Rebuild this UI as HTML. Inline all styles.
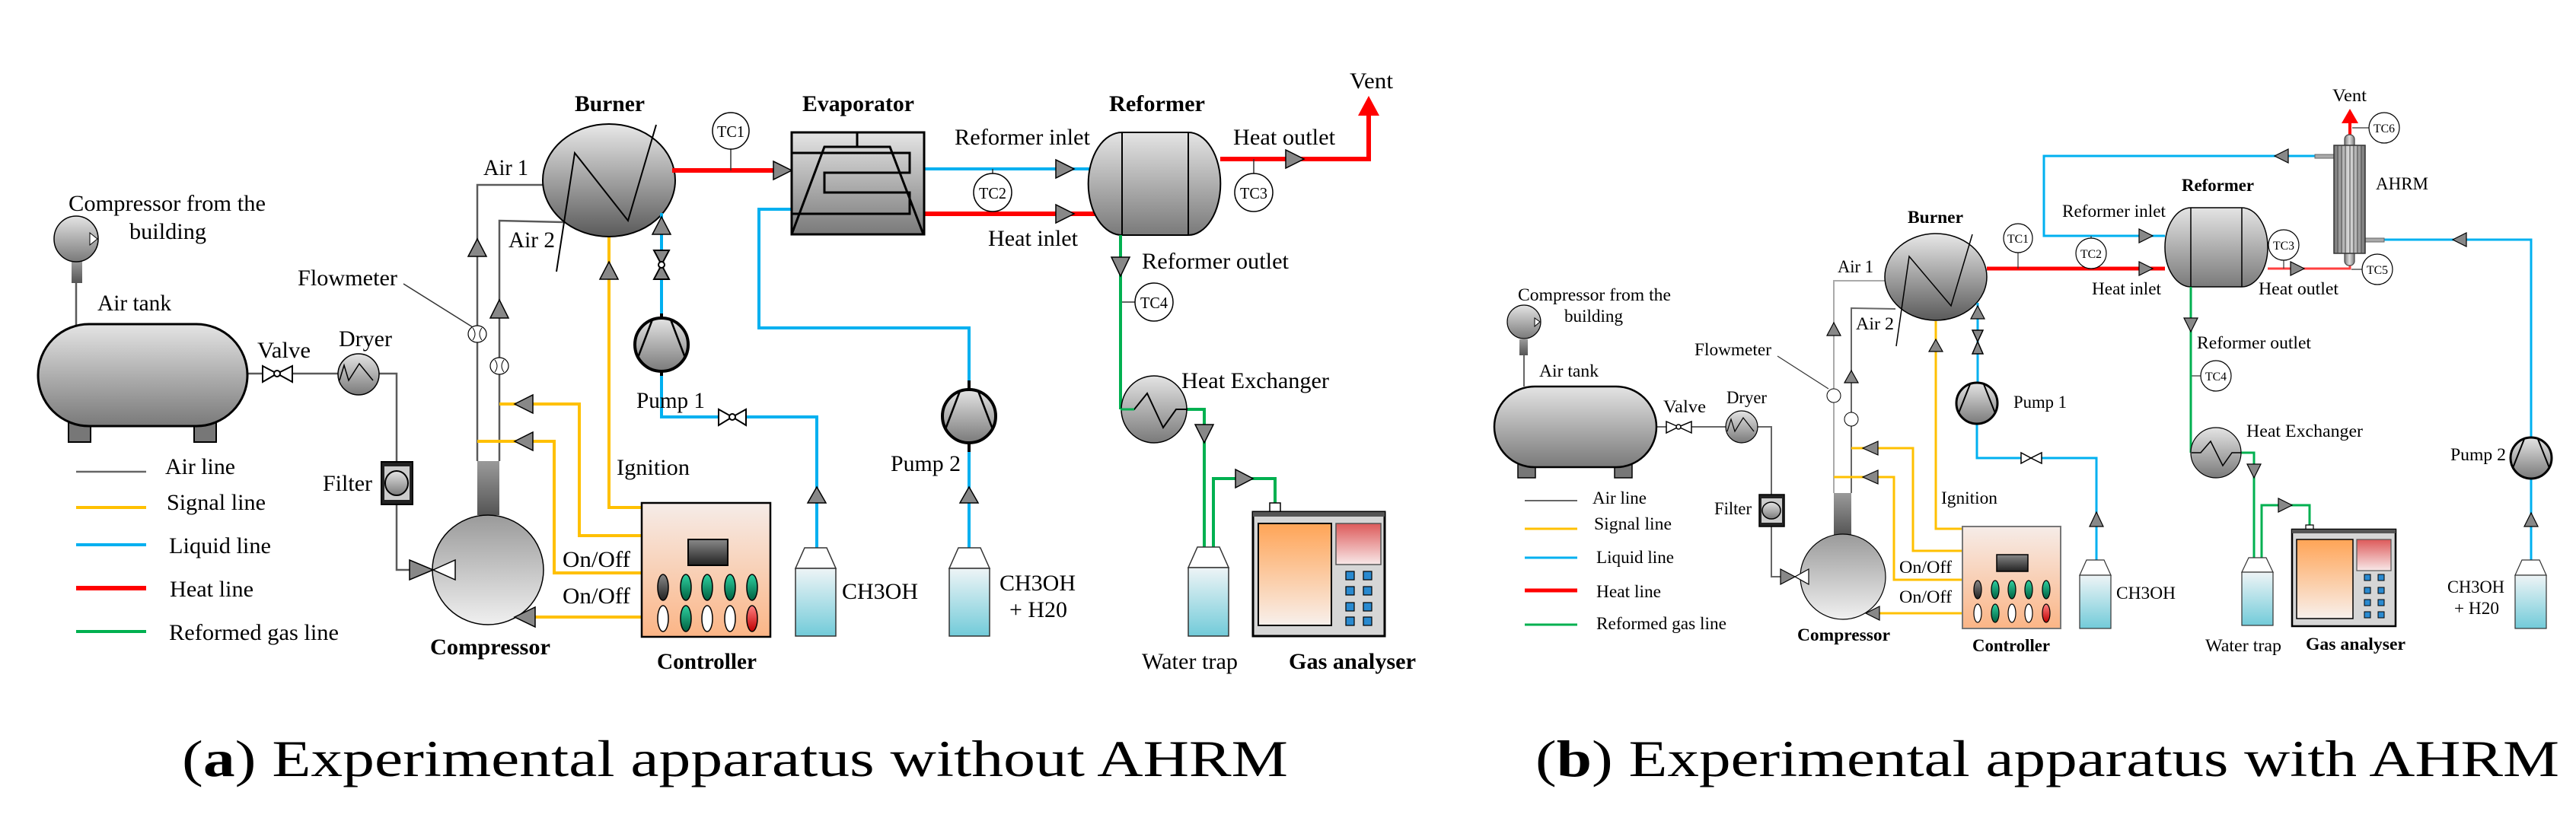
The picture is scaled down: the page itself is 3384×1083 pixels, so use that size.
<!DOCTYPE html>
<html><head><meta charset="utf-8"><style>
html,body{margin:0;padding:0;background:#fff;}
svg{display:block;}
text{font-family:"Liberation Serif","Times New Roman",serif;fill:#000;}
.a{font-size:30px;}
.b{font-size:23px;}
.bd{font-weight:bold;}
.tc{font-size:21px;}
.tcb{font-size:16px;}
</style></head><body>
<svg width="3384" height="1083" viewBox="0 0 3384 1083" xmlns="http://www.w3.org/2000/svg" font-family="Liberation Serif, Times New Roman, serif">
<defs>
<linearGradient id="gDark" x1="0" y1="0" x2="0" y2="1"><stop offset="0" stop-color="#e8e8e8"/><stop offset="1" stop-color="#5a5a5a"/></linearGradient>
<linearGradient id="gMid" x1="0" y1="0" x2="0" y2="1"><stop offset="0" stop-color="#e4e4e4"/><stop offset="1" stop-color="#7a7a7a"/></linearGradient>
<linearGradient id="gComp" x1="0" y1="0" x2="0" y2="1"><stop offset="0" stop-color="#9a9a9a"/><stop offset="1" stop-color="#f0f0f0"/></linearGradient>
<linearGradient id="gStem" x1="0" y1="0" x2="0" y2="1"><stop offset="0" stop-color="#9a9a9a"/><stop offset="1" stop-color="#555"/></linearGradient>
<linearGradient id="gBottle" x1="0" y1="0" x2="0" y2="1"><stop offset="0" stop-color="#eef4f6"/><stop offset="1" stop-color="#72cbd9"/></linearGradient>
<linearGradient id="gCtrl" x1="0" y1="0" x2="0" y2="1"><stop offset="0" stop-color="#f6ece8"/><stop offset="1" stop-color="#fbb586"/></linearGradient>
<linearGradient id="gScr" x1="0" y1="0" x2="0" y2="1"><stop offset="0" stop-color="#ffa456"/><stop offset="1" stop-color="#f8f0ec"/></linearGradient>
<linearGradient id="gRedP" x1="0" y1="0" x2="0" y2="1"><stop offset="0" stop-color="#dd5a5a"/><stop offset="1" stop-color="#f8e8e8"/></linearGradient>
<linearGradient id="gGreen" x1="0" y1="0" x2="0" y2="1"><stop offset="0" stop-color="#2fd0a0"/><stop offset="1" stop-color="#006040"/></linearGradient>
<linearGradient id="gRedB" x1="0" y1="0" x2="0" y2="1"><stop offset="0" stop-color="#ff8080"/><stop offset="1" stop-color="#c00000"/></linearGradient>
<linearGradient id="gBlk" x1="0" y1="0" x2="0" y2="1"><stop offset="0" stop-color="#888"/><stop offset="1" stop-color="#222"/></linearGradient>
<linearGradient id="gAh" x1="0" y1="0" x2="1" y2="0"><stop offset="0" stop-color="#777"/><stop offset=".5" stop-color="#ddd"/><stop offset="1" stop-color="#777"/></linearGradient>
</defs>

<!-- ================= PANEL A ================= -->
<g fill="none" stroke="#5a5a5a" stroke-width="2.5">
<path d="M100 372V427"/>
<path d="M325 491H345M384 491H444M498 491H521V607M521 663V749H538"/>
<path d="M627 606V243H713"/>
<path d="M656 606V290L740 292"/>
<path d="M530 373L621 430" stroke-width="1.5" stroke="#333"/>
</g>
<rect x="94" y="343" width="14" height="29" fill="url(#gStem)"/>
<ellipse cx="100" cy="314" rx="29" ry="30" fill="url(#gMid)" stroke="#000" stroke-width="1.5"/>
<polygon points="118,306 118,322 128,314" fill="#fff" stroke="#000" stroke-width="1"/>
<rect x="90" y="550" width="29" height="31" fill="#777" stroke="#000" stroke-width="2"/>
<rect x="255" y="550" width="29" height="31" fill="#777" stroke="#000" stroke-width="2"/>
<rect x="50" y="426" width="275" height="134" rx="67" ry="67" fill="url(#gMid)" stroke="#000" stroke-width="3"/>
<g stroke="#000" stroke-width="2" fill="#fff"><polygon points="345,481 345,502 364,491"/><polygon points="384,481 384,502 364,491"/><circle cx="364" cy="491" r="4"/></g>
<circle cx="471" cy="492" r="27" fill="url(#gMid)" stroke="#000" stroke-width="1.5"/>
<polyline points="446,500 452,480 458,500 472,478 490,500" fill="none" stroke="#000" stroke-width="1.5"/>
<rect x="501" y="607" width="41" height="56" fill="#222" stroke="#000" stroke-width="2"/>
<rect x="505" y="613" width="33" height="44" fill="#ccc"/>
<ellipse cx="521" cy="635" rx="15" ry="16" fill="url(#gMid)" stroke="#000" stroke-width="2"/>
<rect x="627" y="606" width="29" height="71" fill="url(#gStem)"/>
<ellipse cx="641" cy="749" rx="73" ry="72" fill="url(#gComp)" stroke="#000" stroke-width="1.5"/>
<polygon points="538,736 538,762 569,749" fill="#888" stroke="#000" stroke-width="1.5"/>
<polygon points="569,749 598,736 598,762" fill="#fff" stroke="#000" stroke-width="1.5"/>
<g fill="#fff" stroke="#000" stroke-width="1.2"><ellipse cx="627" cy="439" rx="12" ry="11"/><ellipse cx="656" cy="481" rx="12" ry="11"/></g>
<g stroke="#000" stroke-width="1" fill="none"><path d="M621 431Q627 439 621 447M633 431Q627 439 633 447M650 473Q656 481 650 489M662 473Q656 481 662 489"/></g>
<g fill="#888" stroke="#000" stroke-width="1.5">
<polygon points="615,337 639,337 627,314"/>
<polygon points="644,418 668,418 656,394"/>
</g>
<g fill="none" stroke="#ffc000" stroke-width="4">
<path d="M800 311V667H843"/>
<path d="M843 704H761V531H676M676 531H656"/>
<path d="M843 753H728V580H676M676 580H627"/>
<path d="M843 811H690"/>
</g>
<g fill="#888" stroke="#000" stroke-width="1.5">
<polygon points="676,531 700,519 700,543"/>
<polygon points="676,580 700,568 700,592"/>
<polygon points="676,811 703,798 703,824"/>
<polygon points="788,367 812,367 800,344"/>
</g>
<ellipse cx="800" cy="237" rx="87" ry="74" fill="url(#gDark)" stroke="#000" stroke-width="2"/>
<polyline points="731,357 755,201 825,290 862,164" fill="none" stroke="#000" stroke-width="2"/>
<g fill="none" stroke="#00b0f0" stroke-width="4">
<path d="M869 280V419"/>
<path d="M869 488V548H944M980 548H1073V720"/>
<path d="M1040 275H997V431H1273V512"/>
<path d="M1273 582V720"/>
<path d="M1214 222H1431"/>
</g>
<g fill="#888" stroke="#000" stroke-width="1.5">
<polygon points="857,308 881,308 869,285"/>
<polygon points="1061,661 1085,661 1073,640"/>
<polygon points="1261,661 1285,661 1273,640"/>
<polygon points="1387,210 1387,234 1411,222"/>
</g>
<g stroke="#000" stroke-width="2" fill="#888"><polygon points="859,329 879,329 869,348"/><polygon points="859,367 879,367 869,348"/><circle cx="869" cy="348" r="4" fill="#fff"/></g>
<g stroke="#000" stroke-width="2" fill="#fff"><polygon points="944,538 944,559 962,548"/><polygon points="980,538 980,559 962,548"/><circle cx="962" cy="548" r="4"/></g>
<g>
<ellipse cx="869" cy="453" rx="35" ry="35" fill="url(#gMid)" stroke="#000" stroke-width="4"/>
<path d="M857 420L838 470M881 420L900 470" stroke="#000" stroke-width="2.5"/>
<path d="M869 412V418M869 488V494" stroke="#000" stroke-width="4"/>
<ellipse cx="1273" cy="547" rx="35" ry="35" fill="url(#gMid)" stroke="#000" stroke-width="4"/>
<path d="M1261 514L1242 564M1285 514L1304 564" stroke="#000" stroke-width="2.5"/>
<path d="M1273 500V512M1273 582V594" stroke="#000" stroke-width="4"/>
</g>
<g fill="none" stroke="#ff0000" stroke-width="6">
<path d="M883 224H1016"/>
<path d="M1214 281H1440"/>
<path d="M1603 209H1798V150"/>
</g>
<polygon points="1784,152 1812,152 1798,126" fill="#ff0000"/>
<g fill="#888" stroke="#000" stroke-width="1.5">
<polygon points="1016,212 1016,236 1040,224"/>
<polygon points="1387,269 1387,293 1411,281"/>
<polygon points="1689,197 1689,221 1713,209"/>
</g>
<path d="M960 196V224M1304 222V228M1647 209V228M1472 397H1492" stroke="#333" stroke-width="1.5"/>
<g fill="#fff" stroke="#000" stroke-width="1.5">
<ellipse cx="960" cy="172" rx="24" ry="24"/>
<ellipse cx="1304" cy="253" rx="25" ry="25"/>
<ellipse cx="1647" cy="253" rx="25" ry="25"/>
<ellipse cx="1516" cy="397" rx="25" ry="25"/>
</g>
<text class="tc" x="942" y="180" textLength="36" lengthAdjust="spacingAndGlyphs">TC1</text>
<text class="tc" x="1286" y="261" textLength="36" lengthAdjust="spacingAndGlyphs">TC2</text>
<text class="tc" x="1629" y="261" textLength="36" lengthAdjust="spacingAndGlyphs">TC3</text>
<text class="tc" x="1498" y="405" textLength="36" lengthAdjust="spacingAndGlyphs">TC4</text>
<rect x="1040" y="174" width="174" height="134" fill="url(#gMid)" stroke="#000" stroke-width="3"/>
<g fill="none" stroke="#000" stroke-width="3">
<path d="M1126 174V193"/>
<path d="M1040 308L1083 193H1169L1213 308"/>
<path d="M1040 201H1195V227H1083V253H1195V281H1040"/>
</g>
<path d="M1474 174H1561A42 67 0 0 1 1561 309H1474A44 67 0 0 1 1474 174Z" fill="url(#gMid)" stroke="#000" stroke-width="2"/>
<path d="M1474 174V309M1561 174V309" stroke="#000" stroke-width="2"/>
<g fill="none" stroke="#00b050" stroke-width="4">
<path d="M1472 309V538"/>
<path d="M1559 538H1582V719"/>
<path d="M1594 719V629H1675V661"/>
</g>
<ellipse cx="1516" cy="538" rx="43" ry="44" fill="url(#gMid)" stroke="#000" stroke-width="1.5"/>
<polyline points="1473,538 1490,538 1507,517 1528,562 1545,538 1560,538" fill="none" stroke="#000" stroke-width="2"/>
<path d="M1472 538H1490" stroke="#00b050" stroke-width="3"/>
<g fill="#888" stroke="#000" stroke-width="1.5">
<polygon points="1460,338 1484,338 1472,363"/>
<polygon points="1570,558 1594,558 1582,582"/>
<polygon points="1623,617 1623,641 1646,629"/>
</g>
<g stroke="#333" stroke-width="1.5">
<path d="M1057 720H1086L1098 747H1045Z" fill="#fff"/><rect x="1045" y="747" width="53" height="89" fill="url(#gBottle)"/>
<path d="M1259 720H1288L1300 747H1247Z" fill="#fff"/><rect x="1247" y="747" width="53" height="89" fill="url(#gBottle)"/>
<path d="M1573 719H1602L1614 746H1561Z" fill="#fff"/><rect x="1561" y="746" width="53" height="90" fill="url(#gBottle)"/>
</g>
<path d="M1668 661H1682V673H1668Z" fill="#fff" stroke="#000" stroke-width="1.5"/>
<rect x="1646" y="673" width="173" height="163" fill="#d6d6d6" stroke="#000" stroke-width="3"/>
<rect x="1646" y="673" width="173" height="6" fill="#555"/>
<rect x="1653" y="688" width="96" height="134" fill="url(#gScr)" stroke="#000" stroke-width="2"/>
<rect x="1755" y="688" width="59" height="54" fill="url(#gRedP)" stroke="#555" stroke-width="1.5"/>
<g fill="#2a8ad0" stroke="#000" stroke-width="1.2">
<rect x="1768" y="751" width="11" height="11"/><rect x="1791" y="751" width="11" height="11"/>
<rect x="1768" y="771" width="11" height="11"/><rect x="1791" y="771" width="11" height="11"/>
<rect x="1768" y="792" width="11" height="11"/><rect x="1791" y="792" width="11" height="11"/>
<rect x="1768" y="811" width="11" height="11"/><rect x="1791" y="811" width="11" height="11"/>
</g>
<rect x="843" y="661" width="169" height="176" fill="url(#gCtrl)" stroke="#000" stroke-width="2.5"/>
<rect x="904" y="709" width="52" height="34" fill="url(#gBlk)" stroke="#000" stroke-width="2"/>
<g stroke="#000" stroke-width="1.5">
<ellipse cx="871" cy="772" rx="7" ry="17" fill="url(#gBlk)"/><ellipse cx="901" cy="772" rx="7" ry="17" fill="url(#gGreen)"/><ellipse cx="929" cy="772" rx="7" ry="17" fill="url(#gGreen)"/><ellipse cx="959" cy="772" rx="7" ry="17" fill="url(#gGreen)"/><ellipse cx="988" cy="772" rx="7" ry="17" fill="url(#gGreen)"/>
<ellipse cx="871" cy="813" rx="7" ry="17" fill="#fff"/><ellipse cx="901" cy="813" rx="7" ry="17" fill="url(#gGreen)"/><ellipse cx="929" cy="813" rx="7" ry="17" fill="#fff"/><ellipse cx="959" cy="813" rx="7" ry="17" fill="#fff"/><ellipse cx="988" cy="813" rx="7" ry="17" fill="url(#gRedB)"/>
</g>
<g stroke-width="4"><path d="M100 620H192" stroke="#666" stroke-width="2.5"/><path d="M100 667H192" stroke="#ffc000"/><path d="M100 716H192" stroke="#00b0f0"/><path d="M100 773H192" stroke="#ff0000" stroke-width="6"/><path d="M100 830H192" stroke="#00b050"/></g>
<g lengthAdjust="spacingAndGlyphs">
<text class="a" x="90" y="277" textLength="259" lengthAdjust="spacingAndGlyphs">Compressor from the</text>
<text class="a" x="170" y="314" textLength="101" lengthAdjust="spacingAndGlyphs">building</text>
<text class="a" x="128" y="408" textLength="97" lengthAdjust="spacingAndGlyphs">Air tank</text>
<text class="a" x="338" y="470" textLength="70" lengthAdjust="spacingAndGlyphs">Valve</text>
<text class="a" x="445" y="455" textLength="70" lengthAdjust="spacingAndGlyphs">Dryer</text>
<text class="a" x="424" y="645" textLength="65" lengthAdjust="spacingAndGlyphs">Filter</text>
<text class="a" x="391" y="375" textLength="131" lengthAdjust="spacingAndGlyphs">Flowmeter</text>
<text class="a" x="635" y="230" textLength="59" lengthAdjust="spacingAndGlyphs">Air 1</text>
<text class="a" x="668" y="325" textLength="61" lengthAdjust="spacingAndGlyphs">Air 2</text>
<text class="a bd" x="755" y="146" textLength="92" lengthAdjust="spacingAndGlyphs">Burner</text>
<text class="a bd" x="1054" y="146" textLength="147" lengthAdjust="spacingAndGlyphs">Evaporator</text>
<text class="a bd" x="1457" y="146" textLength="126" lengthAdjust="spacingAndGlyphs">Reformer</text>
<text class="a" x="1254" y="190" textLength="178" lengthAdjust="spacingAndGlyphs">Reformer inlet</text>
<text class="a" x="1298" y="323" textLength="118" lengthAdjust="spacingAndGlyphs">Heat inlet</text>
<text class="a" x="1620" y="190" textLength="134" lengthAdjust="spacingAndGlyphs">Heat outlet</text>
<text class="a" x="1773" y="116" textLength="57" lengthAdjust="spacingAndGlyphs">Vent</text>
<text class="a" x="1500" y="353" textLength="193" lengthAdjust="spacingAndGlyphs">Reformer outlet</text>
<text class="a" x="1552" y="510" textLength="194" lengthAdjust="spacingAndGlyphs">Heat Exchanger</text>
<text class="a" x="836" y="536" textLength="90" lengthAdjust="spacingAndGlyphs">Pump 1</text>
<text class="a" x="1170" y="619" textLength="92" lengthAdjust="spacingAndGlyphs">Pump 2</text>
<text class="a" x="810" y="624" textLength="96" lengthAdjust="spacingAndGlyphs">Ignition</text>
<text class="a" x="739" y="745" textLength="89" lengthAdjust="spacingAndGlyphs">On/Off</text>
<text class="a" x="739" y="793" textLength="89" lengthAdjust="spacingAndGlyphs">On/Off</text>
<text class="a" x="1106" y="787" textLength="100" lengthAdjust="spacingAndGlyphs">CH3OH</text>
<text class="a" x="1313" y="776" textLength="100" lengthAdjust="spacingAndGlyphs">CH3OH</text>
<text class="a" x="1326" y="811" textLength="76" lengthAdjust="spacingAndGlyphs">+ H20</text>
<text class="a" x="1500" y="879" textLength="126" lengthAdjust="spacingAndGlyphs">Water trap</text>
<text class="a bd" x="1693" y="879" textLength="167" lengthAdjust="spacingAndGlyphs">Gas analyser</text>
<text class="a bd" x="565" y="860" textLength="158" lengthAdjust="spacingAndGlyphs">Compressor</text>
<text class="a bd" x="863" y="879" textLength="131" lengthAdjust="spacingAndGlyphs">Controller</text>
<text class="a" x="217" y="623" textLength="92" lengthAdjust="spacingAndGlyphs">Air line</text>
<text class="a" x="219" y="670" textLength="130" lengthAdjust="spacingAndGlyphs">Signal line</text>
<text class="a" x="222" y="727" textLength="134" lengthAdjust="spacingAndGlyphs">Liquid line</text>
<text class="a" x="223" y="784" textLength="110" lengthAdjust="spacingAndGlyphs">Heat line</text>
<text class="a" x="222" y="841" textLength="223" lengthAdjust="spacingAndGlyphs">Reformed gas line</text>
</g>

<!-- ================= PANEL B ================= -->
<g fill="none" stroke="#666" stroke-width="2">
<path d="M2002 467V508"/>
<path d="M2176 561H2189M2222 561H2267M2309 561H2327V650M2327 692V758H2339"/>
<path d="M2409 648V369H2476" stroke="#aaa"/>
<path d="M2432 648V405L2490 406"/>
<path d="M2335 468L2402 511" stroke-width="1.2" stroke="#333"/>
</g>
<rect x="1996" y="446" width="11" height="21" fill="url(#gStem)"/>
<circle cx="2002" cy="423" r="22" fill="url(#gMid)" stroke="#000" stroke-width="1.2"/>
<polygon points="2016,418 2016,429 2023,423" fill="#fff" stroke="#000" stroke-width="1"/>
<rect x="1994" y="605" width="23" height="23" fill="#777" stroke="#000" stroke-width="1.5"/>
<rect x="2121" y="605" width="23" height="23" fill="#777" stroke="#000" stroke-width="1.5"/>
<rect x="1963" y="508" width="213" height="106" rx="53" ry="53" fill="url(#gMid)" stroke="#000" stroke-width="2.5"/>
<g stroke="#000" stroke-width="1.5" fill="#fff"><polygon points="2189,554 2189,569 2205,561"/><polygon points="2222,554 2222,569 2205,561"/><circle cx="2205" cy="561" r="3"/></g>
<circle cx="2288" cy="561" r="21" fill="url(#gMid)" stroke="#000" stroke-width="1.2"/>
<polyline points="2269,567 2274,551 2279,567 2290,549 2304,567" fill="none" stroke="#000" stroke-width="1.2"/>
<rect x="2311" y="650" width="33" height="42" fill="#222" stroke="#000" stroke-width="1.5"/>
<rect x="2314" y="655" width="27" height="32" fill="#ccc"/>
<ellipse cx="2327" cy="671" rx="12" ry="11" fill="url(#gMid)" stroke="#000" stroke-width="1.5"/>
<rect x="2409" y="648" width="23" height="55" fill="url(#gStem)"/>
<circle cx="2421" cy="758" r="56" fill="url(#gComp)" stroke="#000" stroke-width="1.2"/>
<polygon points="2339,748 2339,768 2358,758" fill="#888" stroke="#000" stroke-width="1.2"/>
<polygon points="2358,758 2376,748 2376,768" fill="#fff" stroke="#000" stroke-width="1.2"/>
<g fill="#fff" stroke="#000" stroke-width="1"><circle cx="2409" cy="520" r="9"/><circle cx="2432" cy="551" r="9"/></g>
<g fill="#888" stroke="#000" stroke-width="1.2">
<polygon points="2400,441 2418,441 2409,424"/>
<polygon points="2423,503 2441,503 2432,487"/>
</g>
<g fill="none" stroke="#ffc000" stroke-width="3">
<path d="M2543 422V695H2578"/>
<path d="M2578 724H2513V589H2447H2432"/>
<path d="M2578 762H2488V627H2447H2409"/>
<path d="M2578 806H2460"/>
</g>
<g fill="#888" stroke="#000" stroke-width="1.2">
<polygon points="2447,589 2467,580 2467,598"/>
<polygon points="2447,627 2467,618 2467,636"/>
<polygon points="2451,806 2469,797 2469,815"/>
<polygon points="2534,462 2552,462 2543,446"/>
</g>
<ellipse cx="2543" cy="364" rx="67" ry="57" fill="url(#gDark)" stroke="#000" stroke-width="1.5"/>
<polyline points="2491,455 2508,337 2563,402 2591,308" fill="none" stroke="#000" stroke-width="1.5"/>
<g fill="none" stroke="#00b0f0" stroke-width="3">
<path d="M2598 398V503"/>
<path d="M2597 557V602H2655M2682 602H2754V736"/>
<path d="M3041 205H2685V310H2844"/>
<path d="M3132 315H3325V575"/>
<path d="M3325 629V736"/>
</g>
<g fill="#888" stroke="#000" stroke-width="1.2">
<polygon points="2589,419 2607,419 2598,402"/>
<polygon points="2745,692 2763,692 2754,673"/>
<polygon points="3316,692 3334,692 3325,674"/>
<polygon points="2810,301 2810,319 2828,310"/>
<polygon points="2988,205 3006,196 3006,214"/>
<polygon points="3222,315 3240,306 3240,324"/>
</g>
<g stroke="#000" stroke-width="1.5" fill="#888"><polygon points="2591,434 2605,434 2598,449"/><polygon points="2591,465 2605,465 2598,449"/></g>
<g stroke="#000" stroke-width="1.5" fill="#fff"><polygon points="2655,595 2655,609 2668,602"/><polygon points="2682,595 2682,609 2668,602"/></g>
<circle cx="2597" cy="530" r="27" fill="url(#gMid)" stroke="#000" stroke-width="3"/>
<path d="M2588 505L2573 543M2606 505L2621 543" stroke="#000" stroke-width="2"/>
<circle cx="3325" cy="602" r="27" fill="url(#gMid)" stroke="#000" stroke-width="3"/>
<path d="M3316 577L3301 615M3334 577L3349 615" stroke="#000" stroke-width="2"/>
<path d="M2610 353H2844" stroke="#ff0000" stroke-width="5" fill="none"/>
<path d="M2979 353H3087V341" stroke="#ff4040" stroke-width="3" fill="none"/>
<path d="M3087 177V158" stroke="#ff0000" stroke-width="4"/>
<polygon points="3076,162 3098,162 3087,143" fill="#ff0000"/>
<g fill="#888" stroke="#000" stroke-width="1.2">
<polygon points="2810,344 2810,362 2828,353"/>
<polygon points="3009,344 3009,362 3027,353"/>
</g>
<path d="M2651 332V353M2747 313V310M3000 342V353M3089 354H3103M3090 168H3112M2878 494H2891" stroke="#333" stroke-width="1.2"/>
<g fill="#fff" stroke="#000" stroke-width="1.2">
<circle cx="2651" cy="313" r="19"/><circle cx="2747" cy="333" r="20"/><circle cx="3000" cy="322" r="20"/><circle cx="3123" cy="354" r="20"/><circle cx="3132" cy="168" r="20"/><circle cx="2911" cy="494" r="20"/>
</g>
<text class="tcb" x="2637" y="319" textLength="28" lengthAdjust="spacingAndGlyphs">TC1</text>
<text class="tcb" x="2733" y="339" textLength="28" lengthAdjust="spacingAndGlyphs">TC2</text>
<text class="tcb" x="2986" y="328" textLength="28" lengthAdjust="spacingAndGlyphs">TC3</text>
<text class="tcb" x="3109" y="360" textLength="28" lengthAdjust="spacingAndGlyphs">TC5</text>
<text class="tcb" x="3118" y="174" textLength="28" lengthAdjust="spacingAndGlyphs">TC6</text>
<text class="tcb" x="2897" y="500" textLength="28" lengthAdjust="spacingAndGlyphs">TC4</text>
<path d="M2878 273H2945A34 52 0 0 1 2945 377H2878A34 52 0 0 1 2878 273Z" fill="url(#gMid)" stroke="#000" stroke-width="1.5"/>
<path d="M2878 273V377M2945 273V377" stroke="#000" stroke-width="1.5"/>
<rect x="3041" y="203" width="25" height="5" fill="#aaa" stroke="#666" stroke-width="1"/>
<rect x="3107" y="313" width="25" height="5" fill="#aaa" stroke="#666" stroke-width="1"/>
<rect x="3080" y="177" width="13" height="172" rx="6" fill="url(#gAh)" stroke="#444" stroke-width="1.2"/>
<rect x="3066" y="191" width="41" height="142" fill="url(#gAh)" stroke="#333" stroke-width="1.5"/>
<path d="M3071 191V333M3076 191V333M3081 191V333M3087 191V333M3092 191V333M3097 191V333M3102 191V333" stroke="#444" stroke-width="1"/>
<g fill="none" stroke="#00b050" stroke-width="3">
<path d="M2878 377V595"/>
<path d="M2944 595H2961V733"/>
<path d="M2971 733V664H3034V690"/>
</g>
<circle cx="2911" cy="595" r="33" fill="url(#gMid)" stroke="#000" stroke-width="1.2"/>
<polyline points="2879,595 2891,595 2904,580 2920,612 2932,595 2944,595" fill="none" stroke="#000" stroke-width="1.5"/>
<g fill="#888" stroke="#000" stroke-width="1.2">
<polygon points="2869,418 2887,418 2878,436"/>
<polygon points="2952,610 2970,610 2961,628"/>
<polygon points="2993,655 2993,673 3011,664"/>
</g>
<g stroke="#333" stroke-width="1.2">
<path d="M2741 736H2764L2773 756H2732Z" fill="#fff"/><rect x="2732" y="756" width="41" height="70" fill="url(#gBottle)"/>
<path d="M3313 736H3336L3345 756H3304Z" fill="#fff"/><rect x="3304" y="756" width="41" height="70" fill="url(#gBottle)"/>
<path d="M2954 733H2977L2986 752H2945Z" fill="#fff"/><rect x="2945" y="752" width="41" height="70" fill="url(#gBottle)"/>
</g>
<path d="M3029 690H3039V696H3029Z" fill="#fff" stroke="#000" stroke-width="1.2"/>
<rect x="3011" y="696" width="136" height="127" fill="#d6d6d6" stroke="#000" stroke-width="2.5"/>
<rect x="3011" y="696" width="136" height="5" fill="#555"/>
<rect x="3017" y="709" width="74" height="104" fill="url(#gScr)" stroke="#000" stroke-width="1.5"/>
<rect x="3096" y="709" width="45" height="41" fill="url(#gRedP)" stroke="#555" stroke-width="1.2"/>
<g fill="#2a8ad0" stroke="#000" stroke-width="1">
<rect x="3106" y="755" width="8" height="8"/><rect x="3124" y="755" width="8" height="8"/>
<rect x="3106" y="772" width="8" height="8"/><rect x="3124" y="772" width="8" height="8"/>
<rect x="3106" y="788" width="8" height="8"/><rect x="3124" y="788" width="8" height="8"/>
<rect x="3106" y="804" width="8" height="8"/><rect x="3124" y="804" width="8" height="8"/>
</g>
<rect x="2578" y="692" width="129" height="134" fill="url(#gCtrl)" stroke="#777" stroke-width="2"/>
<rect x="2623" y="729" width="41" height="22" fill="url(#gBlk)" stroke="#000" stroke-width="1.5"/>
<g stroke="#000" stroke-width="1.2">
<ellipse cx="2598" cy="775" rx="5" ry="12" fill="url(#gBlk)"/><ellipse cx="2621" cy="775" rx="5" ry="12" fill="url(#gGreen)"/><ellipse cx="2643" cy="775" rx="5" ry="12" fill="url(#gGreen)"/><ellipse cx="2665" cy="775" rx="5" ry="12" fill="url(#gGreen)"/><ellipse cx="2688" cy="775" rx="5" ry="12" fill="url(#gGreen)"/>
<ellipse cx="2598" cy="806" rx="5" ry="12" fill="#fff"/><ellipse cx="2621" cy="806" rx="5" ry="12" fill="url(#gGreen)"/><ellipse cx="2643" cy="806" rx="5" ry="12" fill="#fff"/><ellipse cx="2665" cy="806" rx="5" ry="12" fill="#fff"/><ellipse cx="2688" cy="806" rx="5" ry="12" fill="url(#gRedB)"/>
</g>
<g stroke-width="3"><path d="M2003 658H2072" stroke="#666" stroke-width="2"/><path d="M2003 695H2072" stroke="#ffc000"/><path d="M2003 733H2072" stroke="#00b0f0"/><path d="M2003 776H2072" stroke="#ff0000" stroke-width="5"/><path d="M2003 821H2072" stroke="#00b050"/></g>
<g>
<text class="b" x="1994" y="395" textLength="201" lengthAdjust="spacingAndGlyphs">Compressor from the</text>
<text class="b" x="2055" y="423" textLength="77" lengthAdjust="spacingAndGlyphs">building</text>
<text class="b" x="2022" y="495" textLength="78" lengthAdjust="spacingAndGlyphs">Air tank</text>
<text class="b" x="2185" y="542" textLength="56" lengthAdjust="spacingAndGlyphs">Valve</text>
<text class="b" x="2268" y="530" textLength="53" lengthAdjust="spacingAndGlyphs">Dryer</text>
<text class="b" x="2252" y="676" textLength="49" lengthAdjust="spacingAndGlyphs">Filter</text>
<text class="b" x="2226" y="467" textLength="101" lengthAdjust="spacingAndGlyphs">Flowmeter</text>
<text class="b" x="2414" y="358" textLength="47" lengthAdjust="spacingAndGlyphs">Air 1</text>
<text class="b" x="2438" y="433" textLength="50" lengthAdjust="spacingAndGlyphs">Air 2</text>
<text class="b bd" x="2506" y="293" textLength="73" lengthAdjust="spacingAndGlyphs">Burner</text>
<text class="b" x="2550" y="662" textLength="74" lengthAdjust="spacingAndGlyphs">Ignition</text>
<text class="b" x="2495" y="753" textLength="69" lengthAdjust="spacingAndGlyphs">On/Off</text>
<text class="b" x="2495" y="792" textLength="69" lengthAdjust="spacingAndGlyphs">On/Off</text>
<text class="b" x="2645" y="536" textLength="70" lengthAdjust="spacingAndGlyphs">Pump 1</text>
<text class="b bd" x="2361" y="842" textLength="122" lengthAdjust="spacingAndGlyphs">Compressor</text>
<text class="b bd" x="2591" y="856" textLength="102" lengthAdjust="spacingAndGlyphs">Controller</text>
<text class="b" x="2709" y="285" textLength="136" lengthAdjust="spacingAndGlyphs">Reformer inlet</text>
<text class="b" x="2748" y="387" textLength="91" lengthAdjust="spacingAndGlyphs">Heat inlet</text>
<text class="b bd" x="2866" y="251" textLength="95" lengthAdjust="spacingAndGlyphs">Reformer</text>
<text class="b" x="2967" y="387" textLength="105" lengthAdjust="spacingAndGlyphs">Heat outlet</text>
<text class="b" x="3064" y="133" textLength="45" lengthAdjust="spacingAndGlyphs">Vent</text>
<text class="b" x="3121" y="249" textLength="69" lengthAdjust="spacingAndGlyphs">AHRM</text>
<text class="b" x="2886" y="458" textLength="150" lengthAdjust="spacingAndGlyphs">Reformer outlet</text>
<text class="b" x="2951" y="574" textLength="153" lengthAdjust="spacingAndGlyphs">Heat Exchanger</text>
<text class="b" x="3219" y="605" textLength="73" lengthAdjust="spacingAndGlyphs">Pump 2</text>
<text class="b" x="3215" y="779" textLength="75" lengthAdjust="spacingAndGlyphs">CH3OH</text>
<text class="b" x="3224" y="807" textLength="59" lengthAdjust="spacingAndGlyphs">+ H20</text>
<text class="b" x="2780" y="787" textLength="78" lengthAdjust="spacingAndGlyphs">CH3OH</text>
<text class="b" x="2897" y="856" textLength="100" lengthAdjust="spacingAndGlyphs">Water trap</text>
<text class="b bd" x="3029" y="854" textLength="131" lengthAdjust="spacingAndGlyphs">Gas analyser</text>
<text class="b" x="2092" y="662" textLength="71" lengthAdjust="spacingAndGlyphs">Air line</text>
<text class="b" x="2094" y="696" textLength="102" lengthAdjust="spacingAndGlyphs">Signal line</text>
<text class="b" x="2097" y="740" textLength="102" lengthAdjust="spacingAndGlyphs">Liquid line</text>
<text class="b" x="2097" y="785" textLength="85" lengthAdjust="spacingAndGlyphs">Heat line</text>
<text class="b" x="2097" y="827" textLength="171" lengthAdjust="spacingAndGlyphs">Reformed gas line</text>
</g>

<text x="239" y="1020" font-size="68" textLength="1453" lengthAdjust="spacingAndGlyphs">(<tspan font-weight="bold">a</tspan>) Experimental apparatus without AHRM</text>
<text x="2017" y="1020" font-size="68" textLength="1345" lengthAdjust="spacingAndGlyphs">(<tspan font-weight="bold">b</tspan>) Experimental apparatus with AHRM</text>
</svg>
</body></html>
